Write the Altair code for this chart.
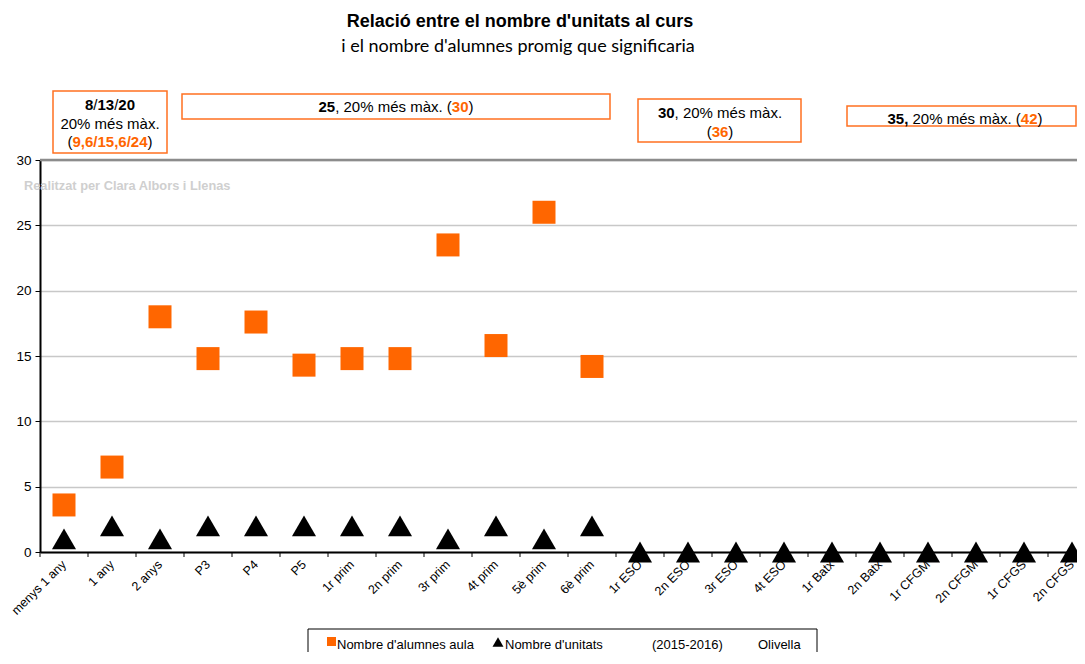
import altair as alt
import pandas as pd

# ---------------- data ----------------
categories = ["menys 1 any", "1 any", "2 anys", "P3", "P4", "P5", "1r prim", "2n prim",
              "3r prim", "4t prim", "5è prim", "6è prim", "1r ESO", "2n ESO", "3r ESO",
              "4t ESO", "1r Batx", "2n Batx", "1r CFGM", "2n CFGM", "1r CFGS", "2n CFGS"]
alumnes = [3.6, 6.5, 18.0, 14.8, 17.6, 14.3, 14.8, 14.8, 23.5, 15.8, 26.0, 14.2] + [None] * 10
unitats = [1, 2, 1, 2, 2, 2, 2, 2, 1, 2, 1, 2] + [0] * 10
y_ticks = [0, 5, 10, 15, 20, 25, 30]

title_text = "Relació entre el nombre d'unitats al curs"
subtitle_text = "i el nombre d'alumnes promig que significaria"
watermark = "Realitzat per Clara Albors i Llenas"
legend_items = ["Nombre d'alumnes aula", "Nombre d'unitats", "(2015-2016)", "Olivella"]

ORANGE = "#ff6600"
BORDER = "#ff7020"
FONT = "Liberation Sans"

df = pd.DataFrame({"cat": categories, "alumnes": alumnes, "unitats": unitats})
one = pd.DataFrame({"k": [0]})

W, H = 1037, 392
STEP = 48

xscale = alt.Scale(type="band", domain=categories, range=[0, STEP * len(categories)],
                   paddingInner=0, paddingOuter=0)
yscale = alt.Scale(domain=[0, 30], nice=False)

base = alt.Chart(df)

xaxis = alt.Axis(title=None, labelAngle=-45, labelAlign="right", labelBaseline="middle",
                 labelFont=FONT, labelFontSize=12.5, labelColor="black", ticks=False,
                 domainColor="black", domainWidth=2, labelPadding=10, grid=False)
yaxis = alt.Axis(title=None, values=y_ticks, grid=True, gridColor="#c8c8c8", gridWidth=1.5,
                 domainColor="black", domainWidth=2, tickColor="black", tickSize=5,
                 labelFont=FONT, labelFontSize=13.5, labelColor="black", labelPadding=4)

squares = base.transform_filter("isValid(datum.alumnes)").mark_square(
    size=529, color=ORANGE, opacity=1
).encode(
    x=alt.X("cat:N", sort=categories, scale=xscale, axis=xaxis),
    y=alt.Y("alumnes:Q", scale=yscale, axis=yaxis),
)

triangles = base.mark_point(shape="triangle-up", filled=True, color="black", size=580, opacity=1).encode(
    x=alt.X("cat:N", sort=categories),
    y=alt.Y("unitats:Q"),
)

xticks = base.mark_rule(color="black", strokeWidth=1).encode(
    x=alt.X("cat:N", sort=categories, bandPosition=0),
    y=alt.value(H), y2=alt.value(H + 5),
)

top_line = alt.Chart(one).mark_rule(color="#8c8c8c", strokeWidth=2.5).encode(
    y=alt.datum(30), x=alt.value(0), x2=alt.value(W)
)

# --------------- text helpers ---------------
REG = {' ': 278, ',': 278, '.': 278, '/': 278, '(': 333, ')': 333, '%': 889, 'm': 833,
       'é': 556, 's': 500, 'à': 556, 'x': 500}
BOLD = {' ': 278, ',': 278, '.': 278, '/': 278, '(': 333, ')': 333}


def txt(text, x, y, size=15, bold=False, color="black", align="left", font=FONT):
    return alt.Chart(one).mark_text(
        text=text, align=align, baseline="alphabetic", font=font, fontSize=size,
        fontWeight="bold" if bold else "normal", color=color
    ).encode(x=alt.value(x), y=alt.value(y))


def line(segments, cx, y, size=15):
    widths = []
    for text, bold, color in segments:
        table = BOLD if bold else REG
        widths.append(sum(table.get(ch, 556) for ch in text) * size / 1000.0)
    x = cx - sum(widths) / 2.0
    out = []
    for (text, bold, color), w in zip(segments, widths):
        out.append(txt(text, x, y, size=size, bold=bold, color=color))
        x += w
    return out


def box(x1, x2, y1, y2, stroke=BORDER, sw=1.5):
    return alt.Chart(one).mark_rect(fill="white", stroke=stroke, strokeWidth=sw).encode(
        x=alt.value(x1), x2=alt.value(x2), y=alt.value(y1), y2=alt.value(y2))


K, O = "black", ORANGE
annots = []
# box 1
annots.append(box(13, 127, -69, -7))
annots += line([("8", True, K), ("/", False, K), ("13", True, K), ("/", False, K), ("20", True, K)], 70, -50)
annots += line([("20% més màx.", False, K)], 70, -31)
annots += line([("(", False, K), ("9,6/15,6/24", True, O), (")", False, K)], 70, -13)
# box 2
annots.append(box(142, 570, -66, -41))
annots += line([("25", True, K), (", 20% més màx. (", False, K), ("30", True, O), (")", False, K)], 356, -48)
# box 3
annots.append(box(598, 761, -61, -18))
annots += line([("30", True, K), (", 20% més màx.", False, K)], 680, -42)
annots += line([("(", False, K), ("36", True, O), (")", False, K)], 680, -23)
# box 4
annots.append(box(807, 1036, -54, -34))
annots += line([("35, ", True, K), ("20% més màx. (", False, K), ("42", True, O), (")", False, K)], 925, -36)

# title
annots.append(txt(title_text, 480, -133, size=18, bold=True, align="center"))
annots.append(txt(subtitle_text, 478, -108, size=18, align="center", font="Lato"))
# watermark
annots.append(txt(watermark, -16, 30, size=12.8, bold=True, color="#cfcfcf"))

# legend (placed so that it stays inside the picture)
LY = -13
leg = [box(268, 777, 482 + LY, 530, stroke="black", sw=1)]
leg.append(alt.Chart(one).mark_square(size=81, color=ORANGE, opacity=1).encode(
    x=alt.value(291.5), y=alt.value(494.5 + LY)))
leg.append(alt.Chart(one).mark_point(shape="triangle-up", filled=True, color="black",
                                     size=120, opacity=1).encode(
    x=alt.value(458), y=alt.value(495 + LY)))
leg.append(txt(legend_items[0], 297, 501.5 + LY, size=13))
leg.append(txt(legend_items[1], 465, 501.5 + LY, size=13))
leg.append(txt(legend_items[2], 612, 501.5 + LY, size=13))
leg.append(txt(legend_items[3], 718, 501.5 + LY, size=13))

chart = alt.layer(top_line, xticks, squares, triangles, *annots, *leg).properties(
    width=W, height=H,
    autosize=alt.AutoSizeParams(type="none"),
    padding={"left": 32, "top": 152, "right": 0, "bottom": 100},
).configure_view(strokeWidth=0)

chart.save("out.html", embed_options={"renderer": "svg", "actions": False})
